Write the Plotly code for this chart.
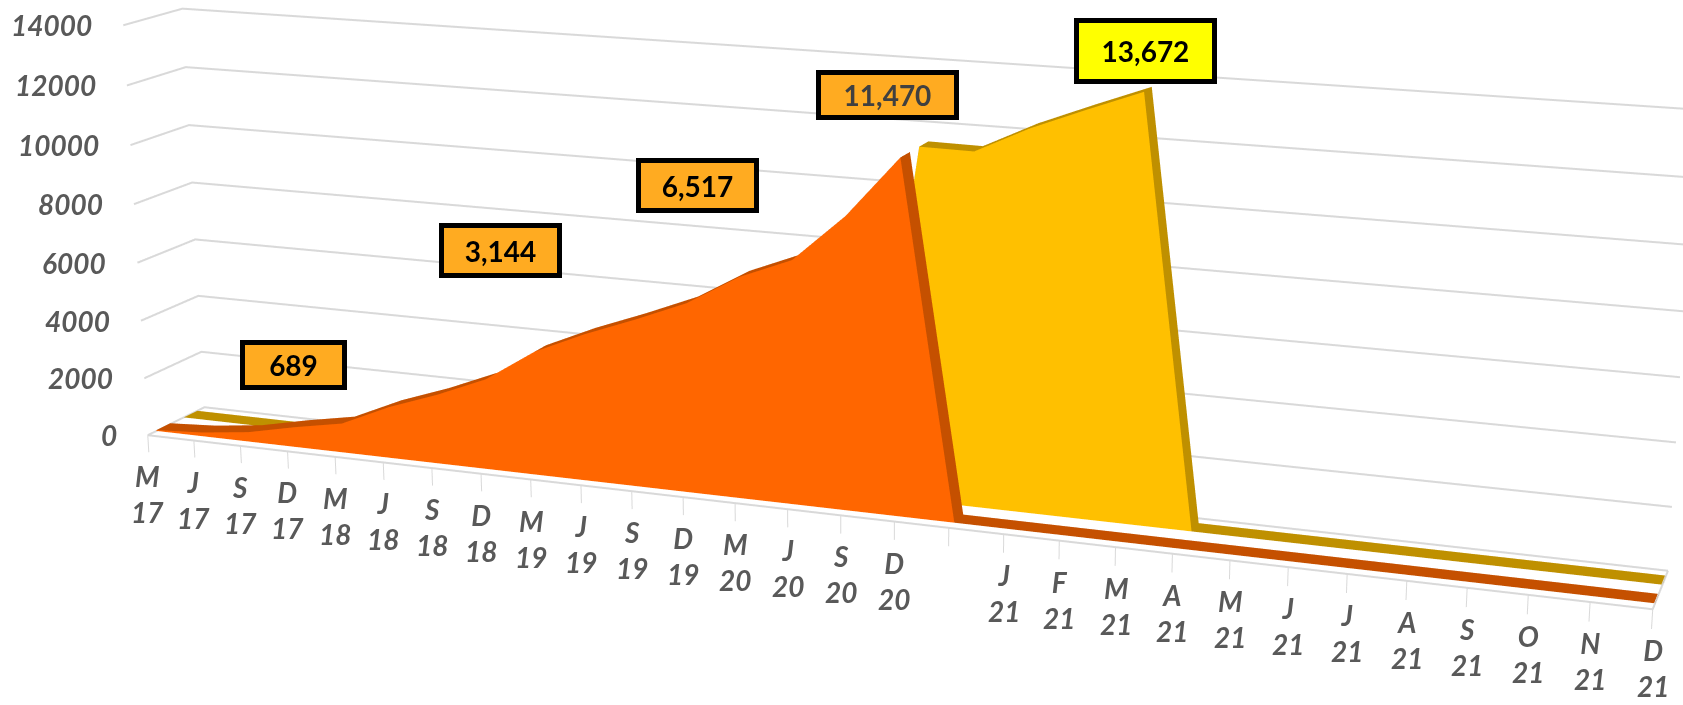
import numpy as np
import plotly.graph_objects as go

cat_top = ["M","J","S","D","M","J","S","D","M","J","S","D","M","J","S","D","","J","F","M","A","M","J","J","A","S","O","N","D"]
cat_year = ["17","17","17","17","18","18","18","18","19","19","19","19","20","20","20","20","","21","21","21","21","21","21","21","21","21","21","21","21"]
orange_vals = [30,130,330,689,1000,1750,2350,3050,4150,4900,5550,6250,7250,7950,9500,11470,0,0,0,0,0,0,0,0,0,0,0,0,0]
yellow_vals = [0,0,0,0,0,0,0,0,0,0,0,0,0,0,0,11470,11450,12300,13000,13672,0,0,0,0,0,0,0,0,0]
z_ticks = [0,2000,4000,6000,8000,10000,12000,14000]
callouts = [("689",3,689),("3,144",7,3050),("6,517",11,6250),("11,470",15,11470),("13,672",19,13672)]

W,H=1683,705
# scene frame and camera, chosen to reproduce the slanted 3-D view of the reference
ZMIN,ZMAX=-1350,14650
XR=(-12,40);YR=(-14,15)
UNIT_X,UNIT_Y,UNIT_Z=2.0/28,0.05901,0.44446/14700
SKEW_XY,SKEW_XZ,SKEW_YZ=0.65077,-0.76646,6.47645
EYE=np.array([0.08074,-0.64876,0.76277]);CEN=np.array([-0.03548,0.24423,-0.17709]);UP=np.array([-0.01290,0.06589,1.34223])
Y1o,Y2o,Y1y,Y2y=0.15,0.39,0.63,0.87
FOCAL=(H/2)/np.tan(np.pi/8)

def sx(x,y,z): return [a+SKEW_XY*b+SKEW_XZ*c/14000 if a is not None else None for a,b,c in zip(x,y,z)]
def sy(x,y,z): return [b+SKEW_YZ*c/14000 if a is not None else None for a,b,c in zip(x,y,z)]
def proj(x,y,z):
    xs=sx([x],[y],[z])[0];ys=sy([x],[y],[z])[0]
    P=np.array([(xs-14)*UNIT_X,(ys-.5)*UNIT_Y,(z-6650)*UNIT_Z])
    f=CEN-EYE;f=f/np.linalg.norm(f)
    s=np.cross(f,UP);s=s/np.linalg.norm(s)
    t=np.cross(s,f)
    d=P-EYE
    return W/2+FOCAL*(d@s)/(d@f), H/2-FOCAL*(d@t)/(d@f)

x=list(range(len(cat_top)))
GRID="#D9D9D9"
LIGHT=dict(ambient=1,diffuse=0,specular=0,fresnel=0)
def mesh(xs,ys,zs,color):
    i,j,k=[],[],[]
    for n in range(len(xs)//2-1):
        a=2*n
        i+=[a,a+3];j+=[a+1,a+1];k+=[a+2,a+2]
    return go.Mesh3d(x=sx(xs,ys,zs),y=sy(xs,ys,zs),z=zs,i=i,j=j,k=k,color=color,flatshading=True,opacity=1,lighting=LIGHT,hoverinfo="skip",showscale=False)
def front(vals,y0,color):
    xs,ys,zs=[],[],[]
    for n,v in enumerate(vals):
        xs+=[n,n];ys+=[y0,y0];zs+=[0,v]
    return mesh(xs,ys,zs,color)
def top(vals,y0,y1,color):
    xs,ys,zs=[],[],[]
    for n,v in enumerate(vals):
        xs+=[n,n];ys+=[y0,y1];zs+=[v,v]
    return mesh(xs,ys,zs,color)
def line(xs,ys,zs,width):
    return go.Scatter3d(x=sx(xs,ys,zs),y=sy(xs,ys,zs),z=zs,mode="lines",line=dict(color=GRID,width=width),hoverinfo="skip",connectgaps=False)
traces=[top(yellow_vals,Y1y,Y2y,"#BF9000"),front(yellow_vals,Y1y,"#FFC000"),
        top(orange_vals,Y1o,Y2o,"#C55000"),front(orange_vals,Y1o,"#FF6600")]
tx,ty,tz=[],[],[]
for n in x:
    tx+=[n,n,None];ty+=[0,0,None];tz+=[0,-600,None]
traces.append(line(tx,ty,tz,2))
traces.append(line([0,x[-1],x[-1]],[0,0,1],[0,0,0],4))
gx,gy,gz=[],[],[]
for z in z_ticks:
    gx+=[0,0,x[-1],None];gy+=[0,1,1,None];gz+=[z,z,z,None]
traces.append(line(gx,gy,gz,4))
fig=go.Figure(traces)
ann=[]
LBL=dict(family="Lato",size=28,color="#595959",weight="bold",style="italic")
for n in x:
    if cat_top[n]:
        ann.append(dict(x=n,y=0,z=0,text=cat_top[n]+"<br>"+cat_year[n],showarrow=False,font=LBL,yshift=-59,xanchor="center",yanchor="middle",align="center"))
for z in z_ticks:
    ann.append(dict(x=sx([0],[0],[z])[0],y=sy([0],[0],[z])[0],z=z,text=str(z),showarrow=False,font=LBL,xshift=-29,xanchor="right",yanchor="middle"))
boxes={"689":(293,365,105,48,"#FFAB21","#000000"),"3,144":(500,250,121,53,"#FFAB21","#000000"),"6,517":(697,185,121,53,"#FFAB21","#000000"),
       "11,470":(887,95,141,48,"#FFAB21","#404040"),"13,672":(1145,51,141,64,"#FFFF00","#000000")}
for text,n,v in callouts:
    bx,by,bw,bh,bg,fc=boxes[text]
    yy=Y1o if text!="13,672" else Y1y
    ax_,ay_=proj(n,yy,v)
    ann.append(dict(x=sx([n],[yy],[v])[0],y=sy([n],[yy],[v])[0],z=v,text=text,showarrow=False,xshift=bx-ax_,yshift=ay_-by,xanchor="center",yanchor="middle",
        bgcolor=bg,bordercolor="#000000",borderwidth=5,width=bw-10,height=bh-10,
        font=dict(family="Lato",size=28,color=fc,weight="bold")))
AXIS=dict(showgrid=False,zeroline=False,showline=False,showticklabels=False,ticks="",title="",showspikes=False,showbackground=False)
fig.update_layout(width=W,height=H,margin=dict(l=0,r=0,t=0,b=0),paper_bgcolor="white",showlegend=False,hovermode=False,
  scene=dict(domain=dict(x=[0,1],y=[0,1]),bgcolor="white",dragmode=False,
    xaxis=dict(AXIS,range=list(XR)),yaxis=dict(AXIS,range=list(YR)),
    zaxis=dict(AXIS,range=[ZMIN,ZMAX],tickmode="array",tickvals=z_ticks),
    aspectmode="manual",aspectratio=dict(x=UNIT_X*(XR[1]-XR[0]),y=UNIT_Y*(YR[1]-YR[0]),z=UNIT_Z*(ZMAX-ZMIN)),
    camera=dict(eye=dict(x=EYE[0],y=EYE[1],z=EYE[2]),center=dict(x=CEN[0],y=CEN[1],z=CEN[2]),up=dict(x=UP[0],y=UP[1],z=UP[2]),projection=dict(type="perspective")),
    annotations=ann))
fig.write_html("out.html",config=dict(displayModeBar=False),post_script="document.body.style.margin='0';document.documentElement.style.overflow='hidden';")
